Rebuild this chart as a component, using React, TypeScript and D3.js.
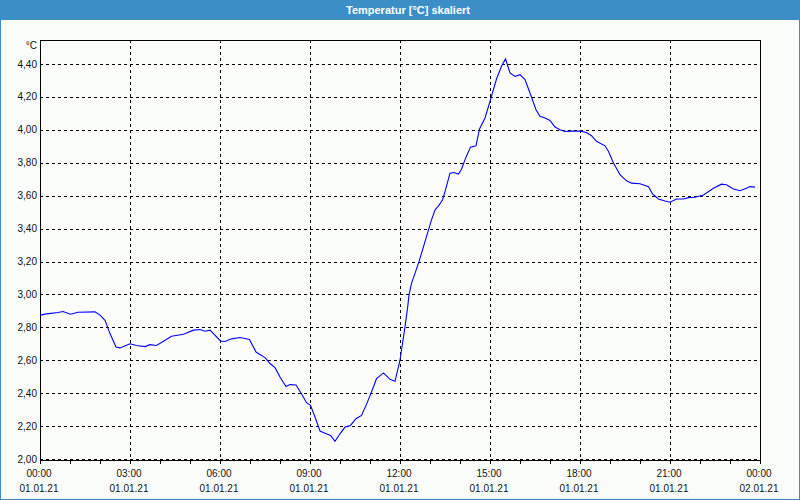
import React from "react";
import * as d3 from "d3";

const TITLE = "Temperatur [°C] skaliert";
const UNIT = "°C";

// minutes after 01.01.21 00:00
const minutes = [
  0, 13, 36, 46, 61, 76, 110, 120, 130, 140, 152, 160, 180, 193, 210, 220, 233, 247, 263, 287,
  307, 320, 330, 340, 361, 370, 383, 400, 419, 432, 450, 460, 470, 480, 492, 500, 512, 523, 533, 541,
  550, 560, 570, 581, 590, 600, 610, 621, 632, 643, 653, 663, 673, 687, 700, 710, 720, 730, 735, 738,
  743, 750, 758, 767, 777, 783, 790, 797, 805, 810, 820, 828, 837, 843, 852, 861, 872, 879, 890, 900,
  913, 923, 931, 940, 950, 960, 970, 980, 992, 1000, 1010, 1020, 1030, 1040, 1050, 1060, 1080, 1093, 1103, 1113,
  1130, 1137, 1147, 1160, 1173, 1183, 1200, 1217, 1225, 1237, 1250, 1260, 1273, 1287, 1297, 1310, 1327, 1347, 1363, 1373,
  1387, 1400, 1413, 1420, 1430,
];

const temperature = [
  2.874, 2.882, 2.89, 2.896, 2.88, 2.892, 2.894, 2.874, 2.843, 2.762, 2.681, 2.675, 2.7, 2.69, 2.683, 2.695, 2.69, 2.716, 2.746, 2.758,
  2.783, 2.787, 2.776, 2.783, 2.717, 2.714, 2.73, 2.738, 2.726, 2.65, 2.616, 2.58, 2.555, 2.498, 2.44, 2.452, 2.45, 2.397, 2.342, 2.326,
  2.255, 2.17, 2.157, 2.143, 2.107, 2.153, 2.194, 2.204, 2.245, 2.265, 2.332, 2.407, 2.488, 2.523, 2.484, 2.472, 2.6, 2.803, 2.915, 2.996,
  3.067, 3.128, 3.199, 3.29, 3.392, 3.453, 3.513, 3.538, 3.574, 3.625, 3.737, 3.741, 3.731, 3.761, 3.834, 3.895, 3.903, 4.005, 4.072, 4.173,
  4.309, 4.386, 4.431, 4.346, 4.325, 4.335, 4.305, 4.224, 4.122, 4.082, 4.072, 4.057, 4.017, 4.0, 3.99, 3.992, 3.992, 3.984, 3.964, 3.93,
  3.903, 3.868, 3.798, 3.727, 3.69, 3.676, 3.672, 3.655, 3.611, 3.58, 3.568, 3.56, 3.58, 3.58, 3.588, 3.59, 3.604, 3.645, 3.67, 3.666,
  3.641, 3.63, 3.645, 3.655, 3.652,
];

const yTicks = [2.0, 2.2, 2.4, 2.6, 2.8, 3.0, 3.2, 3.4, 3.6, 3.8, 4.0, 4.2, 4.4];

const START = Date.UTC(2021, 0, 1, 0, 0);
const END = Date.UTC(2021, 0, 2, 0, 0);

const FONT = "'Liberation Sans', Arial, sans-serif";
const BLUE = "#3b8fc6";

export default function App() {
  const W = 800;
  const H = 500;
  const left = 40, right = 760, top = 40, bottom = 460;

  const x = d3.scaleUtc().domain([new Date(START), new Date(END)]).range([left, right]);
  const y = d3.scaleLinear().domain([2.0, 4.4]).range([459, 64]);

  const majorTicks = x.ticks(d3.utcHour.every(3)!);
  const minorTicks = x.ticks(d3.utcHour.every(1)!);
  const fmtTime = d3.utcFormat("%H:%M");
  const fmtDate = d3.utcFormat("%d.%m.%y");
  const fmtVal = (v: number) => v.toFixed(2).replace(".", ",");

  const data = minutes.map((m, i) => ({ t: new Date(START + m * 60000), v: temperature[i] }));
  const line = d3
    .line<{ t: Date; v: number }>()
    .x((d) => x(d.t))
    .y((d) => y(d.v));

  const px = (v: number) => Math.round(v) + 0.5;

  return (
    <div style={{ position: "fixed", left: 0, top: 0 }}>
      <svg width={W} height={H} style={{ display: "block" }}>
        <rect x={0} y={0} width={W} height={H} fill="#fbfdfb" />
        {/* window border */}
        <rect x={0.5} y={0.5} width={W - 1} height={H - 1} fill="none" stroke={BLUE} strokeWidth={1} />
        <rect x={0} y={0} width={W} height={20} fill={BLUE} />
        <text x={408} y={14} textAnchor="middle" fill="#fff" fontFamily={FONT} fontWeight="bold" fontSize={11}>
          {TITLE}
        </text>

        {/* horizontal grid */}
        {yTicks.map((v) => (
          <line
            key={"h" + v}
            x1={left}
            x2={right}
            y1={px(y(v))}
            y2={px(y(v))}
            stroke="#000"
            strokeWidth={1}
            strokeDasharray="3,3"
            shapeRendering="crispEdges"
          />
        ))}
        {/* vertical grid */}
        {majorTicks
          .filter((t) => +t !== START && +t !== END)
          .map((t) => (
            <line
              key={"v" + +t}
              x1={px(x(t))}
              x2={px(x(t))}
              y1={top}
              y2={bottom}
              stroke="#000"
              strokeWidth={1}
              strokeDasharray="3,3"
              shapeRendering="crispEdges"
            />
          ))}

        {/* frame */}
        <rect
          x={left + 0.5}
          y={top + 0.5}
          width={right - left}
          height={bottom - top}
          fill="none"
          stroke="#000"
          strokeWidth={1}
          shapeRendering="crispEdges"
        />

        {/* minor ticks */}
        {minorTicks.map((t) => (
          <line
            key={"m" + +t}
            x1={px(x(t))}
            x2={px(x(t))}
            y1={bottom}
            y2={bottom + 4}
            stroke="#000"
            shapeRendering="crispEdges"
          />
        ))}

        {/* y labels */}
        {yTicks.map((v) => (
          <text
            key={"yl" + v}
            x={37}
            y={y(v)}
            dy="0.35em"
            textAnchor="end"
            fontFamily={FONT}
            fontSize={10}
            fill="#111"
          >
            {fmtVal(v)}
          </text>
        ))}
        <text x={37} y={45} dy="0.35em" textAnchor="end" fontFamily={FONT} fontSize={10} fill="#111">
          {UNIT}
        </text>

        {/* x labels */}
        {majorTicks.map((t) => (
          <g key={"xl" + +t}>
            <text x={x(t) - 1} y={473.5} dy="0.35em" textAnchor="middle" fontFamily={FONT} fontSize={10} fill="#111">
              {fmtTime(t)}
            </text>
            <text x={x(t) - 1} y={488} dy="0.35em" textAnchor="middle" fontFamily={FONT} fontSize={10} fill="#111">
              {fmtDate(t)}
            </text>
          </g>
        ))}

        {/* series */}
        <path d={line(data) || ""} fill="none" stroke="#0000ff" strokeWidth={1.1} />
      </svg>
    </div>
  );
}
